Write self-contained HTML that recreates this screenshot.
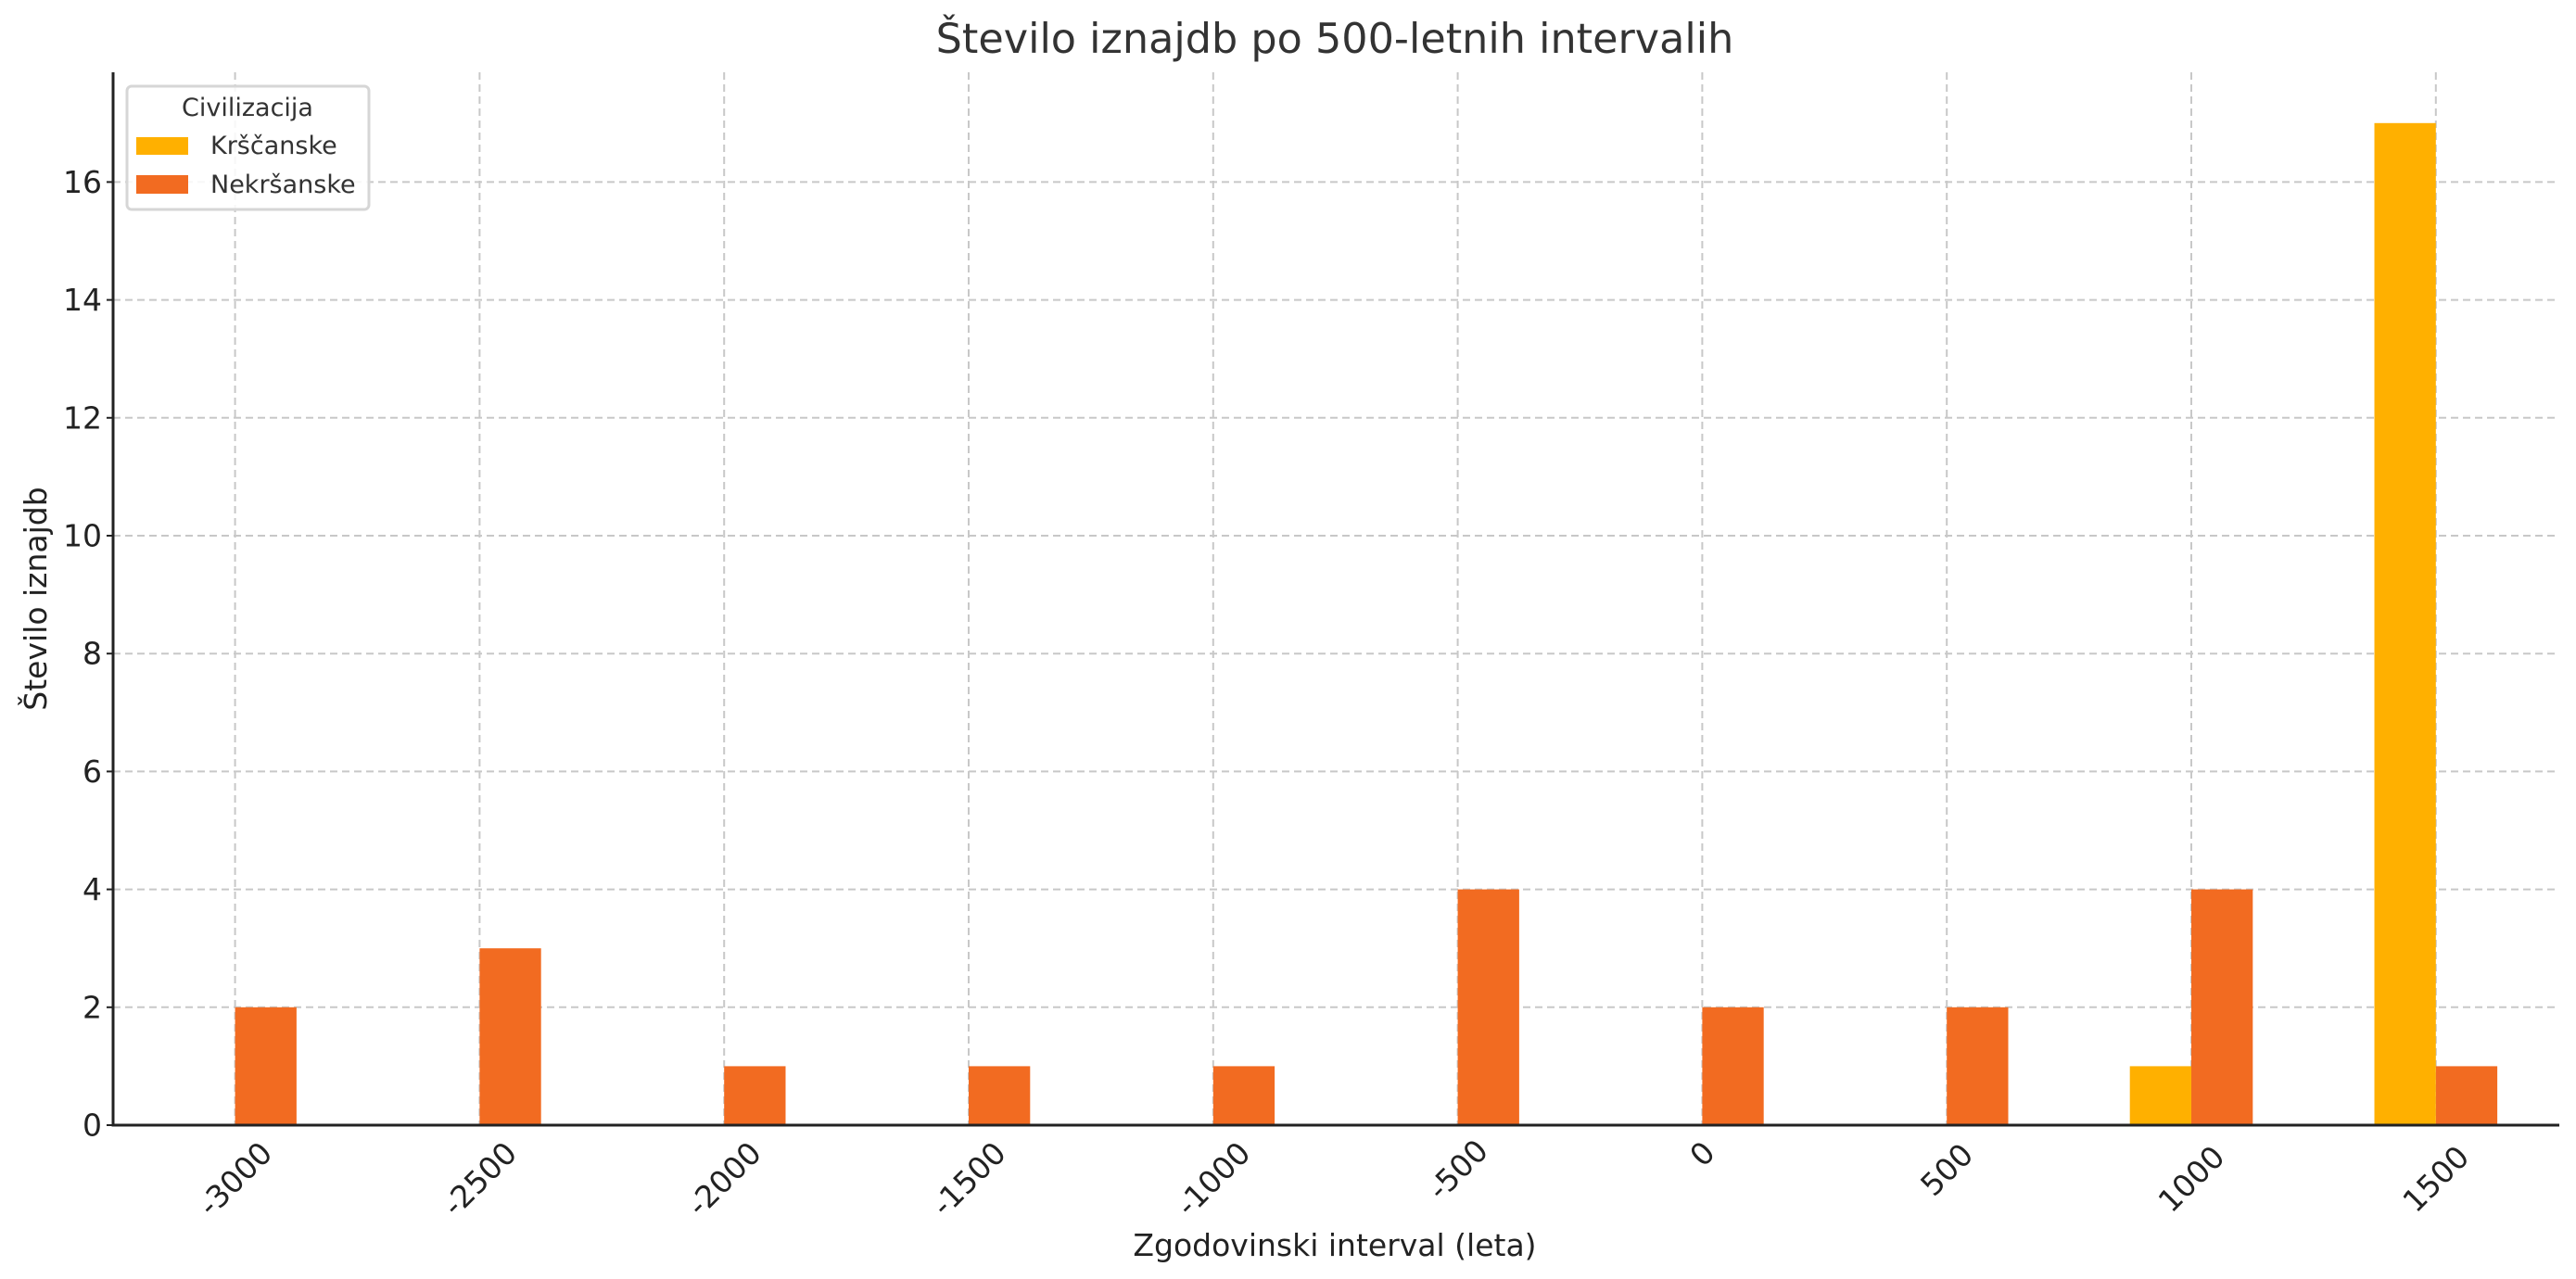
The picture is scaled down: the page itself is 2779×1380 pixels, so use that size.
<!DOCTYPE html>
<html><head><meta charset="utf-8"><style>
html,body{margin:0;padding:0;background:#fff;}
svg{display:block;font-family:"DejaVu Sans","Liberation Sans",sans-serif;}
</style></head><body>
<svg width="2779" height="1380" viewBox="0 0 2779 1380" xmlns="http://www.w3.org/2000/svg">
<rect width="2779" height="1380" fill="#fff"/>
<g stroke="#c8c8c8" stroke-width="2" stroke-dasharray="8,5">
<line x1="122" x2="2761" y1="1086.8" y2="1086.8"/>
<line x1="122" x2="2761" y1="959.6" y2="959.6"/>
<line x1="122" x2="2761" y1="832.4" y2="832.4"/>
<line x1="122" x2="2761" y1="705.2" y2="705.2"/>
<line x1="122" x2="2761" y1="578" y2="578"/>
<line x1="122" x2="2761" y1="450.8" y2="450.8"/>
<line x1="122" x2="2761" y1="323.6" y2="323.6"/>
<line x1="122" x2="2761" y1="196.4" y2="196.4"/>
<line x1="253.6" x2="253.6" y1="78" y2="1214"/>
<line x1="517.4" x2="517.4" y1="78" y2="1214"/>
<line x1="781.2" x2="781.2" y1="78" y2="1214"/>
<line x1="1045" x2="1045" y1="78" y2="1214"/>
<line x1="1308.8" x2="1308.8" y1="78" y2="1214"/>
<line x1="1572.6" x2="1572.6" y1="78" y2="1214"/>
<line x1="1836.4" x2="1836.4" y1="78" y2="1214"/>
<line x1="2100.2" x2="2100.2" y1="78" y2="1214"/>
<line x1="2364" x2="2364" y1="78" y2="1214"/>
<line x1="2627.8" x2="2627.8" y1="78" y2="1214"/>
</g>
<g fill="#F26B21">
<rect x="253.6" y="1086.8" width="66.3" height="127.2"/>
<rect x="517.4" y="1023.2" width="66.3" height="190.8"/>
<rect x="781.2" y="1150.4" width="66.3" height="63.6"/>
<rect x="1045" y="1150.4" width="66.3" height="63.6"/>
<rect x="1308.8" y="1150.4" width="66.3" height="63.6"/>
<rect x="1572.6" y="959.6" width="66.3" height="254.4"/>
<rect x="1836.4" y="1086.8" width="66.3" height="127.2"/>
<rect x="2100.2" y="1086.8" width="66.3" height="127.2"/>
<rect x="2364" y="959.6" width="66.3" height="254.4"/>
<rect x="2627.8" y="1150.4" width="66.3" height="63.6"/>
</g>
<g fill="#FFB000">
<rect x="2297.7" y="1150.4" width="66.3" height="63.6"/>
<rect x="2561.5" y="132.8" width="66.3" height="1081.2"/>
</g>
<g stroke="#222" stroke-width="3">
<line x1="122" x2="122" y1="78" y2="1215.5"/>
<line x1="120.5" x2="2761" y1="1214" y2="1214"/>
</g>
<g stroke="#222" stroke-width="2">
<line x1="115" x2="122" y1="1214" y2="1214"/>
<line x1="115" x2="122" y1="1086.8" y2="1086.8"/>
<line x1="115" x2="122" y1="959.6" y2="959.6"/>
<line x1="115" x2="122" y1="832.4" y2="832.4"/>
<line x1="115" x2="122" y1="705.2" y2="705.2"/>
<line x1="115" x2="122" y1="578" y2="578"/>
<line x1="115" x2="122" y1="450.8" y2="450.8"/>
<line x1="115" x2="122" y1="323.6" y2="323.6"/>
<line x1="115" x2="122" y1="196.4" y2="196.4"/>
</g>
<g fill="#222" font-size="33" text-anchor="end" dominant-baseline="central">
<text x="110" y="1214">0</text>
<text x="110" y="1086.8">2</text>
<text x="110" y="959.6">4</text>
<text x="110" y="832.4">6</text>
<text x="110" y="705.2">8</text>
<text x="110" y="578">10</text>
<text x="110" y="450.8">12</text>
<text x="110" y="323.6">14</text>
<text x="110" y="196.4">16</text>
</g>
<g fill="#222" font-size="33" text-anchor="middle" dominant-baseline="central">
<text transform="translate(253.6,1272) rotate(-45)">-3000</text>
<text transform="translate(517.4,1272) rotate(-45)">-2500</text>
<text transform="translate(781.2,1272) rotate(-45)">-2000</text>
<text transform="translate(1045,1272) rotate(-45)">-1500</text>
<text transform="translate(1308.8,1272) rotate(-45)">-1000</text>
<text transform="translate(1572.6,1262) rotate(-45)">-500</text>
<text transform="translate(1836.4,1245) rotate(-45)">0</text>
<text transform="translate(2100.2,1262) rotate(-45)">500</text>
<text transform="translate(2364,1272) rotate(-45)">1000</text>
<text transform="translate(2627.8,1272) rotate(-45)">1500</text>
</g>
<text x="1440" y="57" font-size="44.5" fill="#333" text-anchor="middle">Število iznajdb po 500-letnih intervalih</text>
<text x="1440" y="1355" font-size="33" fill="#222" text-anchor="middle">Zgodovinski interval (leta)</text>
<text transform="translate(50,646) rotate(-90)" font-size="33" fill="#222" text-anchor="middle">Število iznajdb</text>
<rect x="137" y="93" width="261" height="133" rx="5" fill="#fff" fill-opacity="0.85" stroke="#d6d6d6" stroke-width="3"/>
<text x="267" y="125" font-size="27" fill="#333" text-anchor="middle">Civilizacija</text>
<rect x="147" y="148" width="56" height="19" fill="#FFB000"/>
<rect x="147" y="189" width="56" height="20" fill="#F26B21"/>
<text x="227" y="166" font-size="27" fill="#333">Krščanske</text>
<text x="227" y="208" font-size="27" fill="#333">Nekršanske</text>
</svg>
</body></html>
